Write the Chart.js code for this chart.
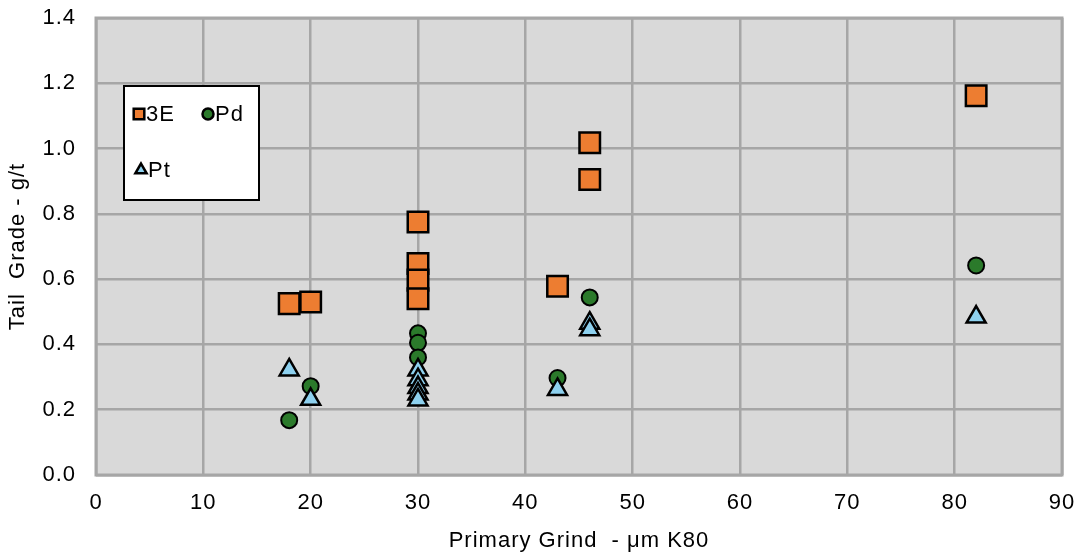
<!DOCTYPE html>
<html>
<head>
<meta charset="utf-8">
<script src="https://cdn.jsdelivr.net/npm/chart.js@4.4.1/dist/chart.umd.min.js"></script>
<style>
  html, body { margin: 0; padding: 0; background: #fff; }
  #wrap { width: 1081px; height: 557px; }
</style>
</head>
<body>
<div id="wrap"><canvas id="grindChart" width="1081" height="557"></canvas></div>
<script>
// primary grind (um K80) vs tail grade (g/t)
const grind3E = [18, 20, 30, 30, 30, 30, 43, 46, 46, 82];
const grade3E = [0.525, 0.53, 0.775, 0.648, 0.597, 0.54, 0.578, 1.018, 0.905, 1.162];

const grindPd = [18, 20, 30, 30, 30, 43, 46, 82];
const gradePd = [0.168, 0.272, 0.434, 0.405, 0.36, 0.297, 0.544, 0.642];

const grindPt = [18, 20, 30, 30, 30, 30, 30, 43, 46, 46, 82];
const gradePt = [0.322, 0.232, 0.322, 0.292, 0.268, 0.248, 0.23, 0.262, 0.465, 0.445, 0.484];

const xTicks = [0, 10, 20, 30, 40, 50, 60, 70, 80, 90];
const yTicks = [0.0, 0.2, 0.4, 0.6, 0.8, 1.0, 1.2, 1.4];

const FONT = "'Liberation Sans', Arial, sans-serif";
const SPACING = '1px';

function toPoints(xs, ys) {
    return xs.map((x, i) => ({ x: x, y: ys[i] }));
}

// text in this chart is a bit wide, so open up the letters
const wideText = {
    id: 'wideText',
    beforeLayout(chart) { chart.ctx.letterSpacing = SPACING; },
    beforeDraw(chart) { chart.ctx.letterSpacing = SPACING; }
};

// grey plot background + border
const plotBackground = {
    id: 'plotBackground',
    beforeDraw(chart) {
        const { ctx, chartArea: a } = chart;
        ctx.save();
        ctx.fillStyle = '#d9d9d9';
        ctx.fillRect(a.left, a.top, a.right - a.left, a.bottom - a.top);
        ctx.restore();
    },
    afterDatasetsDraw(chart) {
        const { ctx, chartArea: a } = chart;
        ctx.save();
        ctx.strokeStyle = '#a6a6a6';
        ctx.lineWidth = 3;
        ctx.strokeRect(a.left, a.top, a.right - a.left, a.bottom - a.top);
        ctx.restore();
    }
};

// boxed legend inside the plot, top-left
const boxLegend = {
    id: 'boxLegend',
    afterDraw(chart) {
        const { ctx } = chart;
        const x0 = 124, y0 = 86, w = 135, h = 114;
        ctx.save();
        ctx.fillStyle = '#ffffff';
        ctx.fillRect(x0, y0, w, h);
        ctx.strokeStyle = '#000000';
        ctx.lineWidth = 2;
        ctx.strokeRect(x0, y0, w, h);

        const items = [
            { ds: 0, mx: 139, my: 114, tx: 146 },
            { ds: 1, mx: 208, my: 114, tx: 215 },
            { ds: 2, mx: 141, my: 170, tx: 148 }
        ];
        ctx.font = '22px ' + FONT;
        ctx.textBaseline = 'middle';
        items.forEach(it => {
            const d = chart.data.datasets[it.ds];
            const st = { pointStyle: d.pointStyle, rotation: 0, radius: d.legendRadius, borderWidth: 2.5 };
            ctx.fillStyle = d.backgroundColor;
            ctx.strokeStyle = d.borderColor;
            ctx.lineWidth = 2.5;
            Chart.helpers.drawPoint(ctx, st, it.mx, it.my);
            ctx.fillStyle = '#000';
            ctx.fillText(d.label, it.tx, it.my + 1);
        });
        ctx.restore();
    }
};

const config = {
    type: 'scatter',
    data: {
        datasets: [
            {
                label: '3E',
                data: toPoints(grind3E, grade3E),
                pointStyle: 'rect',
                pointRadius: 14.5,
                legendRadius: 7.5,
                backgroundColor: '#ed7d31',
                borderColor: '#000000',
                borderWidth: 2.5,
                order: 3
            },
            {
                label: 'Pd',
                data: toPoints(grindPd, gradePd),
                pointStyle: 'circle',
                pointRadius: 8,
                legendRadius: 5.5,
                backgroundColor: '#2b7a2b',
                borderColor: '#000000',
                borderWidth: 2,
                order: 2
            },
            {
                label: 'Pt',
                data: toPoints(grindPt, gradePt),
                pointStyle: 'triangle',
                pointRadius: 11,
                legendRadius: 6.5,
                backgroundColor: '#8ed1ef',
                borderColor: '#000000',
                borderWidth: 2.5,
                order: 1
            }
        ]
    },
    options: {
        responsive: false,
        animation: false,
        layout: { padding: { top: 18, right: 19, left: 0, bottom: 0 } },
        plugins: {
            legend: { display: false },
            tooltip: { enabled: false }
        },
        scales: {
            x: {
                type: 'linear',
                min: 0,
                max: 90,
                afterBuildTicks: axis => { axis.ticks = xTicks.map(v => ({ value: v })); },
                afterFit: s => { s.height = 82; s.paddingLeft = 0; s.paddingRight = 0; },
                grid: { color: '#a6a6a6', lineWidth: 2.5, drawTicks: false },
                border: { display: false },
                ticks: {
                    color: '#000',
                    font: { family: FONT, size: 22 },
                    padding: 15
                },
                title: {
                    display: true,
                    text: 'Primary Grind  - μm K80',
                    color: '#000',
                    font: { family: FONT, size: 22 },
                    padding: { top: 11, bottom: 3 }
                }
            },
            y: {
                type: 'linear',
                min: 0,
                max: 1.4,
                afterBuildTicks: axis => { axis.ticks = yTicks.map(v => ({ value: v })); },
                afterFit: s => { s.width = 96; s.paddingTop = 0; s.paddingBottom = 0; },
                grid: { color: '#a6a6a6', lineWidth: 2.5, drawTicks: false },
                border: { display: false },
                ticks: {
                    color: '#000',
                    font: { family: FONT, size: 22 },
                    padding: 20,
                    callback: v => Number(v).toFixed(1)
                },
                title: {
                    display: true,
                    text: 'Tail  Grade - g/t',
                    color: '#000',
                    font: { family: FONT, size: 22 },
                    padding: { top: 5, bottom: 11 }
                }
            }
        }
    },
    plugins: [wideText, plotBackground, boxLegend]
};

new Chart(document.getElementById('grindChart').getContext('2d'), config);
</script>
</body>
</html>
